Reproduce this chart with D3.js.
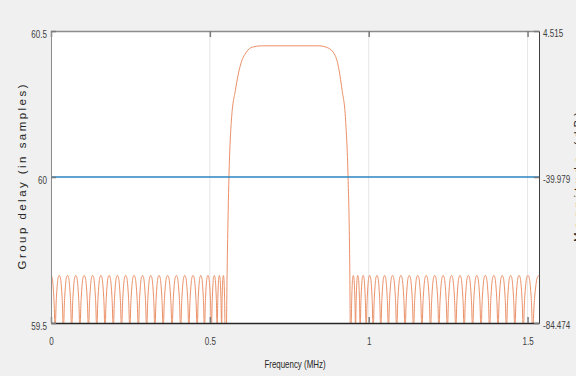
<!DOCTYPE html>
<html>
<head>
<meta charset="utf-8">
<script src="https://cdn.jsdelivr.net/npm/d3@7"></script>
<style>
  body { margin: 0; background: #f0f0f0; }
  text { font-family: "Liberation Sans", Arial, sans-serif; fill: #404040; }
</style>
</head>
<body>
<div id="chart"></div>
<script>
// tick values
var freqTicks = [0, 0.5, 1, 1.5];
var delayTicks = [59.5, 60, 60.5];
var magTicks = [-84.474, -39.979, 4.515];

// group delay (samples) - constant
var delayFreq = [0, 1.536];
var delayVals = [60, 60];

// magnitude response (MHz, dB)
var stopPeakDb = -70;
// null positions bounding each stopband lobe (first / last lobe centred on 0 and on 1.536)
var leftNulls = [-0.013, 0.013, 0.039, 0.065, 0.091, 0.118, 0.144, 0.170, 0.196, 0.222, 0.248, 0.275,
  0.301, 0.327, 0.353, 0.381, 0.408, 0.434, 0.460, 0.483, 0.505, 0.523, 0.537, 0.548];
var rightNulls = [0.9445, 0.9585, 0.973, 0.992, 1.014, 1.038, 1.062, 1.088, 1.1145, 1.141, 1.1675,
  1.1945, 1.221, 1.2475, 1.274, 1.3005, 1.327, 1.3535, 1.3805, 1.407, 1.4335, 1.46, 1.4865, 1.516, 1.556];
// shape of one lobe (fraction of lobe width, dB below the peak level)
var lobeFrac = [0, 0.04, 0.07, 0.10, 0.15, 0.21, 0.29, 0.37, 0.5, 0.63, 0.71, 0.79, 0.85, 0.90, 0.93, 0.96, 1];
var lobeDb = [-40, -16, -13, -10, -7, -4.5, -2, -0.6, 0, -0.6, -2, -4.5, -7, -10, -13, -16, -40];
// passband and transition bands
var edgeFreq = [0.548, 0.5554, 0.5601, 0.5679, 0.5805, 0.5962, 0.615, 0.6338, 0.662,
  0.844, 0.866, 0.888, 0.9037, 0.9162, 0.9272, 0.935, 0.9398, 0.9445];
var edgeDb = [-110, -62.2, -40.0, -22.6, -13.5, -5.9, -1.9, -0.4, 0,
  0, -0.4, -1.9, -5.9, -13.5, -22.6, -40.0, -62.2, -110];

var width = 576, height = 376;
var margin = {left: 51, right: 37, top: 31, bottom: 53};

var svg = d3.select("#chart").append("svg")
  .attr("width", width)
  .attr("height", height);

svg.append("rect").attr("width", width).attr("height", height).attr("fill", "#f0f0f0");

var x = d3.scaleLinear().domain([0, 1.536]).range([margin.left, width - margin.right]);
var yL = d3.scaleLinear().domain([59.5, 60.5]).range([height - margin.bottom, margin.top]);
var yR = d3.scaleLinear().domain([-84.474, 4.515]).range([height - margin.bottom, margin.top]);

var pw = width - margin.left - margin.right;
var ph = height - margin.top - margin.bottom;

svg.append("rect")
  .attr("x", margin.left).attr("y", margin.top)
  .attr("width", pw).attr("height", ph)
  .attr("fill", "#ffffff");

svg.append("defs").append("clipPath").attr("id", "plotClip")
  .append("rect")
  .attr("x", margin.left).attr("y", margin.top)
  .attr("width", pw).attr("height", ph);

// vertical grid
svg.append("g").selectAll("line")
  .data(freqTicks.slice(1))
  .join("line")
  .attr("x1", function(d) { return x(d); })
  .attr("x2", function(d) { return x(d); })
  .attr("y1", margin.top).attr("y2", height - margin.bottom)
  .attr("stroke", "#e6e6e6")
  .attr("stroke-width", 1);

// build the magnitude series: lobes between nulls, then the passband
function lobes(nulls) {
  var pts = [];
  for (var i = 0; i < nulls.length - 1; i++) {
    var a = nulls[i], w = nulls[i + 1] - a;
    lobeFrac.forEach(function(f, j) {
      if (i > 0 && j === 0) return;
      pts.push([a + f * w, stopPeakDb + lobeDb[j]]);
    });
  }
  return pts;
}

var mag = lobes(leftNulls).slice(0, -1)
  .concat(edgeFreq.map(function(f, i) { return [f, edgeDb[i]]; }))
  .concat(lobes(rightNulls).slice(1));

var magLine = d3.line()
  .x(function(d) { return x(d[0]); })
  .y(function(d) { return yR(d[1]); })
  .curve(d3.curveMonotoneX);

svg.append("path")
  .datum(mag)
  .attr("clip-path", "url(#plotClip)")
  .attr("d", magLine)
  .attr("fill", "none")
  .attr("stroke", "#eb9067")
  .attr("stroke-width", 1);

var delayLine = d3.line()
  .x(function(d, i) { return x(delayFreq[i]); })
  .y(function(d) { return yL(d); });

svg.append("path")
  .datum(delayVals)
  .attr("d", delayLine)
  .attr("fill", "none")
  .attr("stroke", "#2a84c2")
  .attr("stroke-width", 1.5);

// axes
var numFmt = function(d) { return String(d); };
var bottomAxis = d3.axisBottom(x).tickValues(freqTicks).tickFormat(numFmt).tickSizeInner(-6).tickSizeOuter(0).tickPadding(14);
var topAxis = d3.axisTop(x).tickValues(freqTicks).tickFormat("").tickSizeInner(-6).tickSizeOuter(0);
var leftAxis = d3.axisLeft(yL).tickValues(delayTicks).tickFormat(numFmt).tickSizeInner(-5).tickSizeOuter(0).tickPadding(4);
var rightAxis = d3.axisRight(yR).tickValues(magTicks).tickFormat(function(d) { return d.toFixed(3); })
  .tickSizeInner(-5).tickSizeOuter(0).tickPadding(4);

// squeeze text to look like the narrow font of the original
function narrow(sel, k) {
  sel.each(function() {
    var len = this.getComputedTextLength();
    d3.select(this).attr("textLength", len * k).attr("lengthAdjust", "spacingAndGlyphs");
  });
}

function styleAxis(g, color) {
  g.select(".domain").attr("stroke", color);
  g.selectAll(".tick line").attr("stroke", "#7a7a7a").attr("stroke-width", 1.5);
  g.selectAll(".tick text").attr("fill", "#404040").style("font-size", "11.5px")
    .style("font-family", "'Liberation Sans', Arial, sans-serif")
    .call(narrow, 0.7);
}

svg.append("g").attr("transform", "translate(0," + (height - margin.bottom) + ")")
  .call(bottomAxis).call(styleAxis, "#262626")
  .select(".domain").attr("stroke-width", 1.5);
svg.append("g").attr("transform", "translate(0," + margin.top + ")")
  .call(topAxis).call(styleAxis, "#8c8c8c")
  .select(".domain").attr("stroke-width", 1.5);
svg.append("g").attr("transform", "translate(" + margin.left + ",0)")
  .call(leftAxis).call(styleAxis, "#8c8c8c")
  .selectAll(".tick text").attr("dy", "0.55em");
svg.append("g").attr("transform", "translate(" + (width - margin.right) + ",0)")
  .call(rightAxis).call(styleAxis, "#404040")
  .selectAll(".tick text").attr("dy", "0.5em");

// labels
svg.append("text")
  .attr("x", x(0.768)).attr("y", 368)
  .attr("text-anchor", "middle")
  .style("font-size", "11px")
  .style("fill", "#262626")
  .text("Frequency (MHz)")
  .call(narrow, 0.72);

svg.append("text")
  .attr("transform", "translate(26," + yL(60) + ") rotate(-90)")
  .attr("text-anchor", "middle")
  .attr("textLength", 185)
  .attr("lengthAdjust", "spacing")
  .style("font-size", "11.5px")
  .style("fill", "#262626")
  .text("Group delay (in samples)");

svg.append("text")
  .attr("transform", "translate(582," + yR(-39.979) + ") rotate(-90)")
  .attr("text-anchor", "middle")
  .attr("textLength", 130)
  .attr("lengthAdjust", "spacing")
  .style("font-size", "11.5px")
  .style("fill", "#262626")
  .text("Magnitude (dB)");
</script>
</body>
</html>
